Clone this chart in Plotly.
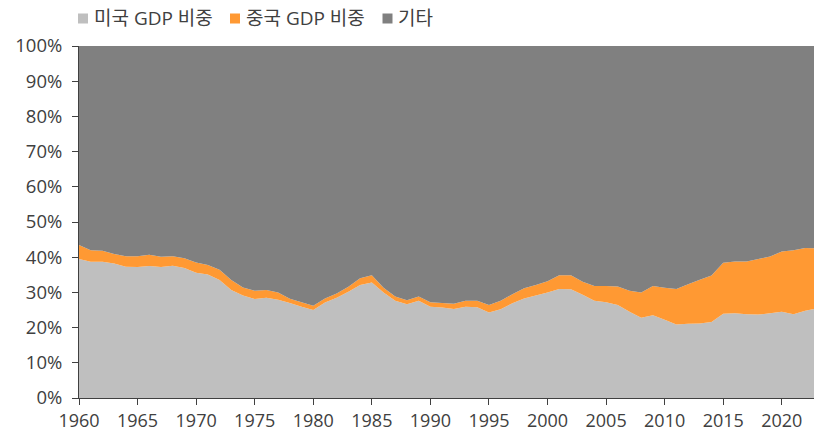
import plotly.graph_objects as go

years = list(range(1960, 2024))
us_share = [39.5, 38.7, 38.7, 38.2, 37.3, 37.2, 37.5, 37.2, 37.6, 36.9,
            35.6, 35.1, 33.5, 30.7, 29.1, 28.1, 28.5, 27.9, 27.0, 25.9,
            25.0, 27.1, 28.5, 30.2, 32.1, 32.8, 30.0, 27.6, 26.6, 27.6,
            25.9, 25.7, 25.3, 25.9, 25.8, 24.3, 25.2, 26.9, 28.3, 29.1,
            30.0, 31.0, 30.9, 29.3, 27.6, 27.2, 26.4, 24.5, 22.8, 23.5,
            22.2, 20.9, 21.1, 21.2, 21.6, 23.9, 24.1, 23.8, 23.7, 24.1,
            24.5, 23.8, 24.8, 25.4]
china_share = [4.0, 3.3, 3.1, 2.7, 3.0, 3.1, 3.2, 2.9, 2.7, 2.8,
               2.9, 2.7, 2.9, 2.8, 2.3, 2.4, 2.2, 2.1, 1.2, 1.3,
               1.2, 1.2, 1.2, 1.4, 1.9, 2.1, 1.3, 1.2, 1.2, 1.2,
               1.3, 1.3, 1.5, 1.7, 1.8, 2.1, 2.4, 2.6, 2.9, 3.0,
               3.2, 3.9, 4.0, 3.7, 4.2, 4.6, 5.3, 6.0, 7.2, 8.3,
               9.1, 10.1, 11.2, 12.4, 13.2, 14.5, 14.7, 15.0, 15.8, 16.1,
               17.1, 18.2, 17.8, 17.1]
other_share = [round(100 - u - c, 2) for u, c in zip(us_share, china_share)]

names = ["미국 GDP 비중", "중국 GDP 비중", "기타"]
colors = ["#BFBFBF", "#FF9933", "#808080"]
series = [us_share, china_share, other_share]

x_tick_vals = [1960, 1965, 1970, 1975, 1980, 1985, 1990, 1995, 2000, 2005, 2010, 2015, 2020]
y_tick_vals = [0, 10, 20, 30, 40, 50, 60, 70, 80, 90, 100]
y_tick_text = ["0%", "10%", "20%", "30%", "40%", "50%", "60%", "70%", "80%", "90%", "100%"]

fig = go.Figure()
for name, col, vals in zip(names, colors, series):
    fig.add_trace(go.Scatter(
        x=years, y=vals, name=name, stackgroup="one", mode="none",
        fillcolor=col, line=dict(width=0), showlegend=False,
        hoverinfo="skip"))

font = "Open Sans, Noto Sans CJK KR, sans-serif"
txt = "#404040"

# legend drawn as squares + text (pixel layout converted to paper coords)
W, H = 814, 432
L, R, T, B = 79, 0, 46, 34
pw, ph = W - L - R, H - T - B
def px(x):
    return (x - L) / pw
def py(y):
    return (H - B - y) / ph

legend_sq_left = [78, 230, 382.5]
shapes = []
annotations = []
for name, col, x0 in zip(names, colors, legend_sq_left):
    shapes.append(dict(type="rect", xref="paper", yref="paper",
                       x0=px(x0), x1=px(x0 + 10), y0=py(23.5), y1=py(13.5),
                       fillcolor=col, line=dict(width=0)))
    annotations.append(dict(xref="paper", yref="paper", x=px(x0 + 13.5), y=py(18),
                            xanchor="left", yanchor="middle", showarrow=False,
                            text=name, font=dict(size=19, color=txt, family=font)))

fig.update_layout(
    width=W, height=H,
    margin=dict(l=L, r=R, t=T, b=B),
    paper_bgcolor="white", plot_bgcolor="white",
    font=dict(family=font, size=18, color=txt),
    showlegend=False,
    shapes=shapes, annotations=annotations,
    xaxis=dict(range=[1960, 2022.75], tickmode="array",
               tickvals=x_tick_vals,
               ticks="outside", ticklen=6, tickcolor=txt,
               showline=True, linecolor=txt, linewidth=1,
               showgrid=False, zeroline=False,
               tickfont=dict(size=18, color=txt)),
    yaxis=dict(range=[0, 100], tickmode="array",
               tickvals=y_tick_vals, ticktext=y_tick_text,
               ticks="outside", ticklen=6, tickcolor=txt,
               ticklabelstandoff=6,
               showline=True, linecolor=txt, linewidth=1,
               showgrid=False, zeroline=False,
               tickfont=dict(size=18.5, color=txt)),
)

fig.write_html("out.html", config={"displayModeBar": False},
               post_script="document.body.style.margin='0';document.body.style.overflow='hidden';")
